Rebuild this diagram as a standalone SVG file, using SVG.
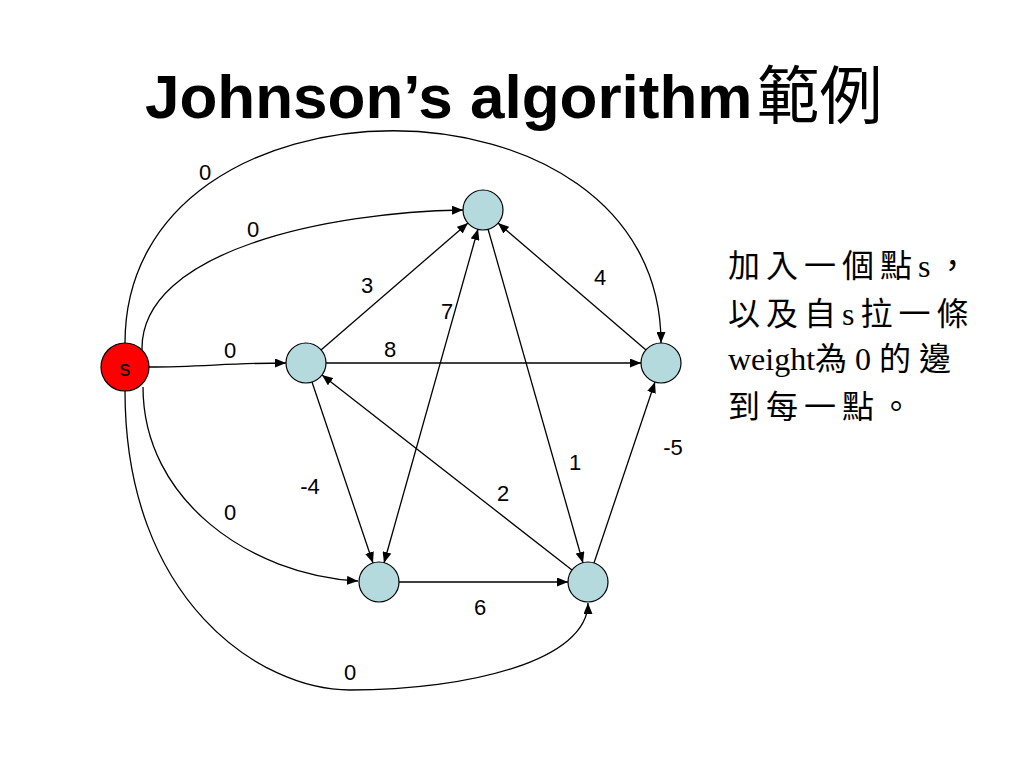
<svg xmlns="http://www.w3.org/2000/svg" width="1024" height="768" viewBox="0 0 1024 768">
<style>
.edge{fill:none;stroke:#000;stroke-width:1.3;marker-end:url(#arr)}
.node{fill:#b4dade;stroke:#000;stroke-width:1.2}
.src{fill:#ff0000;stroke:#000;stroke-width:1.2}
.lbl{font-family:"Liberation Sans",Arial,sans-serif;font-size:22px;fill:#000;text-anchor:middle}
.title{font-family:"Liberation Sans",Arial,"Noto Sans CJK TC",sans-serif;font-size:62px;font-weight:bold;fill:#000}
.cjk{font-family:"Noto Sans CJK TC",sans-serif;font-weight:normal}
.note{font-family:"Liberation Serif","Noto Sans CJK TC",serif;font-size:32px;fill:#000;letter-spacing:6px}
</style>
<defs>
<marker id="arr" markerUnits="userSpaceOnUse" markerWidth="11" markerHeight="9" refX="11" refY="4.5" orient="auto-start-reverse">
<path d="M0,0 L11,4.5 L0,9 z" fill="#000"/>
</marker>
</defs>
<rect width="1024" height="768" fill="#fff"/>
<text class="title" x="145" y="118">Johnson’s algorithm<tspan class="cjk" font-size="63" dx="4">範例</tspan></text>
<g id="connectors">
<path class="edge" d="M125,343 C125,60 661,60 661,343"/>
<path class="edge" d="M142,350 C140,250 330,212 463,210"/>
<path class="edge" d="M149,367 C200,367 230,363 286,363"/>
<path class="edge" d="M143,387 C143,500 250,575 358,581"/>
<path class="edge" d="M125,391 C125,600 260,690 350,690 C470,690 588,660 588,603"/>
<path class="edge" d="M321,350 L468,223"/>
<path class="edge" d="M326,363 L641,363"/>
<path class="edge" style="marker-start:url(#arr)" d="M478,229 L384,563"/>
<path class="edge" d="M488,229 L583,563"/>
<path class="edge" d="M646,350 L498,223"/>
<path class="edge" d="M572,570 L322,375"/>
<path class="edge" d="M594,563 L655,382"/>
<path class="edge" d="M312,382 L373,563"/>
<path class="edge" d="M399,582 L568,582"/>
</g>
<g id="labels">
<text class="lbl" x="205" y="180">0</text>
<text class="lbl" x="253" y="237">0</text>
<text class="lbl" x="230" y="358">0</text>
<text class="lbl" x="230" y="520">0</text>
<text class="lbl" x="350" y="680">0</text>
<text class="lbl" x="367" y="293">3</text>
<text class="lbl" x="390" y="357">8</text>
<text class="lbl" x="447" y="319">7</text>
<text class="lbl" x="600" y="285">4</text>
<text class="lbl" x="575" y="470">1</text>
<text class="lbl" x="503" y="501">2</text>
<text class="lbl" x="673" y="455">-5</text>
<text class="lbl" x="310" y="494">-4</text>
<text class="lbl" x="480" y="615">6</text>
</g>
<g id="node-s"><circle class="src" cx="125" cy="367" r="24"/><text class="lbl" x="125" y="376">s</text></g>
<g id="node-a"><circle class="node" cx="483" cy="210" r="20"/></g>
<g id="node-b"><circle class="node" cx="306" cy="363" r="20"/></g>
<g id="node-c"><circle class="node" cx="661" cy="363" r="20"/></g>
<g id="node-d"><circle class="node" cx="379" cy="582" r="20"/></g>
<g id="node-e"><circle class="node" cx="588" cy="582" r="20"/></g>
<g id="note">
<text class="note" x="728" y="277">加入一個點s，</text>
<text class="note" x="728" y="325">以及自s拉一條</text>
<text class="note" x="728" y="370"><tspan letter-spacing="0">weight</tspan><tspan letter-spacing="8">為0的邊</tspan></text>
<text class="note" x="728" y="418">到每一點。</text>
</g>
</svg>
